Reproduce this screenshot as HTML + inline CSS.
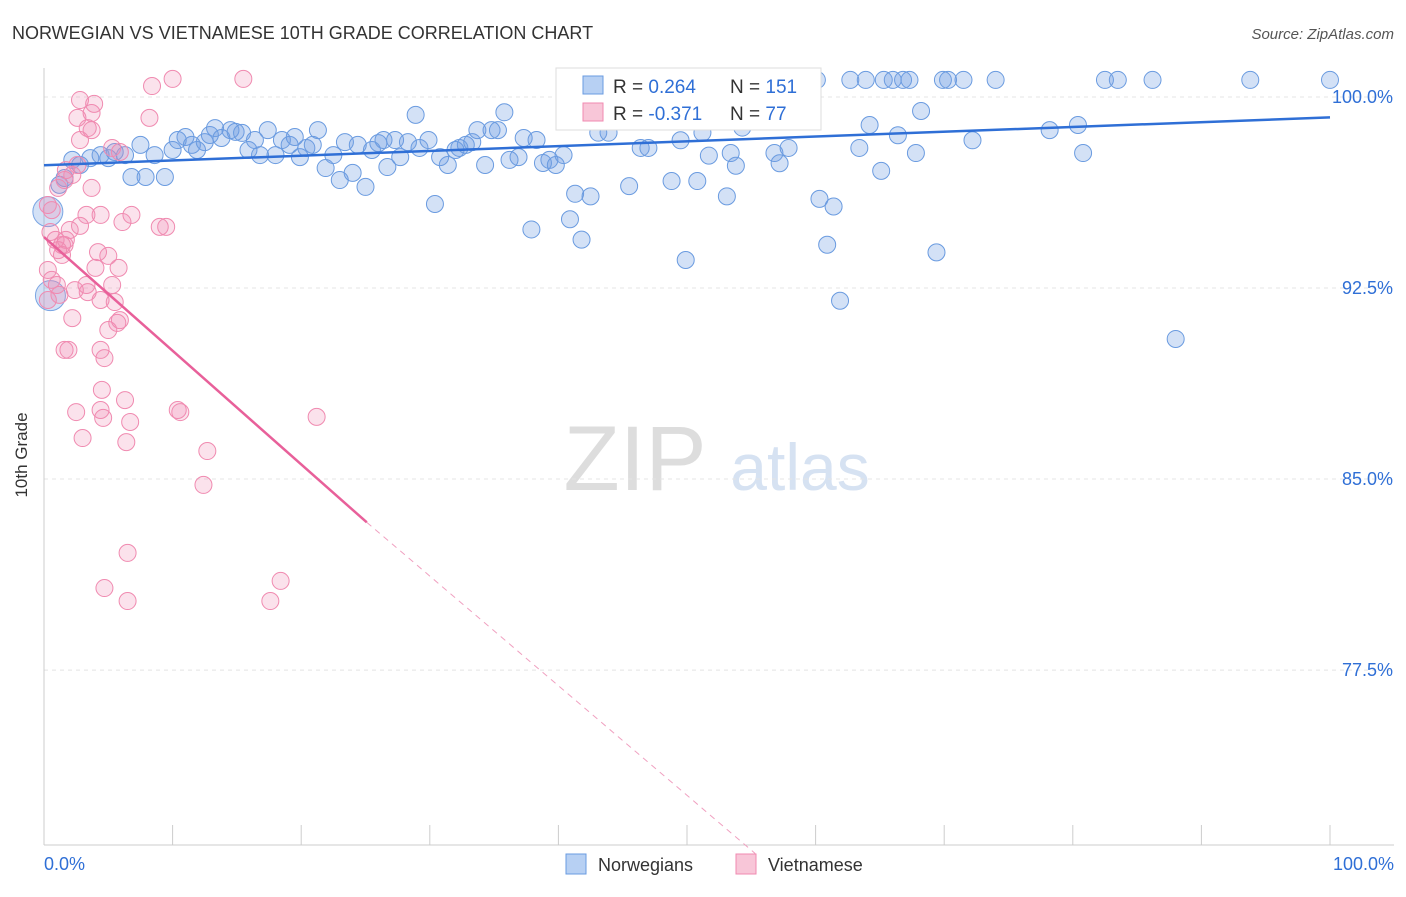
<!DOCTYPE html>
<html><head><meta charset="utf-8"><style>
body{margin:0;background:#fff;font-family:"Liberation Sans",sans-serif}
svg text{font-family:"Liberation Sans",sans-serif}
</style></head><body>
<svg id="c" width="1406" height="892">
<text x="12" y="39" font-size="18" fill="#333">NORWEGIAN VS VIETNAMESE 10TH GRADE CORRELATION CHART</text>
<text x="1394" y="39" font-size="15" fill="#555" text-anchor="end" font-style="italic">Source: ZipAtlas.com</text>
<text x="27" y="455" font-size="17" fill="#333" transform="rotate(-90 27 455)" text-anchor="middle">10th Grade</text>
<text x="635" y="490" font-size="92" fill="#ddd" font-family="Liberation Serif" text-anchor="middle">ZIP</text>
<text x="800" y="490" font-size="66" fill="#d6e2f2" text-anchor="middle">atlas</text>
<g id="grid"></g><g id="pts"></g><g id="lines"></g>
<g>
<rect x="556" y="68" width="265" height="62" fill="#fff" stroke="#ddd"/>
<rect x="583" y="76" width="20" height="18" fill="#b7d0f3" stroke="#6a9be0"/>
<text x="613" y="93" font-size="19" fill="#333">R = <tspan fill="#2f6fd6">0.264</tspan></text>
<text x="730" y="93" font-size="19" fill="#333">N = <tspan fill="#2f6fd6">151</tspan></text>
<rect x="583" y="103" width="20" height="18" fill="#f8c6d8" stroke="#f08ab0"/>
<text x="613" y="120" font-size="19" fill="#333">R = <tspan fill="#2f6fd6">-0.371</tspan></text>
<text x="730" y="120" font-size="19" fill="#333">N = <tspan fill="#2f6fd6">77</tspan></text>
</g>
<g>
<rect x="566" y="854" width="20" height="20" fill="#b7d0f3" stroke="#6a9be0"/>
<text x="598" y="871" font-size="18" fill="#333">Norwegians</text>
<rect x="736" y="854" width="20" height="20" fill="#f8c6d8" stroke="#f08ab0"/>
<text x="768" y="871" font-size="18" fill="#333">Vietnamese</text>
</g>
<text x="44" y="870" font-size="18" fill="#2f6fd6">0.0%</text>
<text x="1394" y="870" font-size="18" fill="#2f6fd6" text-anchor="end">100.0%</text>
</svg>
<script>
const yTicks=[100,92.5,85,77.5];
const yTickLabels=["100.0%","92.5%","85.0%","77.5%"];
const blueX=[60.1,62.7,63.9,65.3,66,66.8,67.3,69.9,70.3,71.5,74,82.5,83.5,86.2,93.8,100,54.7,28.9,35.8,68.2,56.6,58.8,43.1,43.9,46.4,47,49.5,51.2,51.7,53.4,53.8,54.3,56.8,57.2,57.9,63.4,64.2,66.4,67.8,72.2,78.2,80.4,80.8,65.1,45.5,48.8,50.8,53.1,41.3,42.5,40.9,41.8,37.9,30.4,60.3,61.4,60.9,49.9,69.4,61.9,88,
1.2,1.6,2.2,2.8,3.6,4.4,5.0,5.5,6.3,6.8,7.5,7.9,8.6,9.4,10.0,10.4,11.0,11.5,11.9,12.5,12.9,13.3,13.8,14.5,14.9,15.4,15.9,16.4,16.8,17.4,18.0,18.5,19.1,19.5,19.9,20.4,20.9,21.3,21.9,22.5,23.0,23.4,24.0,24.4,25.0,25.5,26.0,26.4,26.7,27.3,27.7,28.3,29.2,29.9,30.8,31.4,32.0,32.3,32.8,33.3,33.7,34.3,34.8,35.3,36.2,36.9,37.3,38.3,38.8,39.3,39.8,40.4];
const blueY=[100.67,100.67,100.67,100.67,100.67,100.67,100.67,100.67,100.67,100.67,100.67,100.67,100.67,100.67,100.67,100.67,100.67,99.3,99.4,99.45,99.4,99.9,98.6,98.6,98,98,98.3,98.6,97.7,97.8,97.3,98.8,97.8,97.4,98,98,98.9,98.5,97.8,98.3,98.7,98.9,97.8,97.1,96.5,96.7,96.7,96.1,96.2,96.1,95.2,94.4,94.8,95.8,96,95.7,94.2,93.6,93.9,92,90.5,
96.55,96.82,97.53,97.33,97.6,97.72,97.6,97.84,97.72,96.86,98.12,96.86,97.72,96.86,97.92,98.31,98.43,98.12,97.92,98.23,98.51,98.78,98.39,98.7,98.63,98.59,97.92,98.31,97.72,98.7,97.72,98.31,98.12,98.43,97.64,98,98.12,98.7,97.21,97.72,96.74,98.23,97.02,98.12,96.47,97.92,98.19,98.31,97.25,98.31,97.64,98.23,98,98.31,97.64,97.33,97.92,98,98.12,98.23,98.7,97.33,98.7,98.7,97.53,97.64,98.39,98.31,97.41,97.53,97.33,97.72];
const pinkX=[0.3,0.6,0.5,0.9,0.3,0.6,1.0,1.2,1.4,1.6,2.0,1.1,1.6,2.2,2.6,2.8,2.6,2.8,3.4,3.7,3.9,3.3,2.8,3.7,4.4,4.2,4.0,5.0,5.3,5.9,6.1,6.8,5.8,3.3,3.4,2.2,4.4,5.3,5.5,5.9,5.0,4.7,1.6,1.9,4.5,2.5,4.4,4.6,6.3,6.7,3.0,6.4,10.4,10.6,12.7,12.4,21.2,6.5,4.7,6.5,17.6,18.4,9.0,9.5,8.2,8.4,10.0,15.5,2.4,1.1,1.4,0.3,1.7,4.4,5.7,1.7,3.7];
const pinkY=[95.76,95.56,94.7,94.39,93.21,92.82,92.62,92.23,93.8,94.19,94.78,96.43,96.74,96.94,97.33,98.31,99.18,99.88,98.78,99.37,99.73,95.37,94.94,96.43,95.37,93.91,93.29,93.76,98,97.84,95.09,95.37,93.29,92.62,92.34,91.32,92.03,92.62,91.95,91.24,90.85,89.75,90.07,90.07,88.5,87.63,87.71,87.4,88.1,87.24,86.61,86.45,87.71,87.63,86.1,84.77,87.44,82.1,80.72,80.21,80.21,81.0,94.9,94.9,99.18,100.43,100.71,100.71,92.42,93.99,94.19,92.03,94.39,90.07,91.13,97.13,98.7];
const blueTrend=[[0,97.32],[100,99.2]];
const pinkTrend=[[0,94.5],[25.1,83.3]];
const pinkDash=[[25.1,83.3],[55.3,70.3]];
const X=v=>44+v*12.86, Y=v=>97+(100-v)*25.47;
const NS="http://www.w3.org/2000/svg";
function mk(t,a,p){const e=document.createElementNS(NS,t);for(const k in a)e.setAttribute(k,a[k]);p.appendChild(e);return e;}
const g=document.getElementById('grid');
yTicks.forEach((t,i)=>{
 const l=mk('line',{x1:44,x2:1394,y1:Y(t),y2:Y(t),stroke:'#e4e4e4','stroke-dasharray':'4,4'},g);
 
 
 const tx=mk('text',{x:1393,y:Y(t)+6,'font-size':18,fill:'#2f6fd6','text-anchor':'end'},g);
 tx.textContent=yTickLabels[i];
 
 
});
const ax=mk('line',{x1:44,x2:44,y1:68,y2:845,stroke:'#ccc'},g);


const bx=mk('line',{x1:44,x2:1394,y1:845,y2:845,stroke:'#ccc'},g);


for(let i=0;i<=10;i++){const t=mk('line',{x1:X(i*10),x2:X(i*10),y1:825,y2:845,stroke:'#ccc'},g);
 
 }
const p=document.getElementById('pts');
function big(x,y,fill,stroke){const c=mk('circle',{cx:X(x),cy:Y(y),r:15,fill:fill,stroke:stroke},p);
 
 }
big(0.3,95.5,'rgba(110,155,225,0.3)','#7aa5e3');big(0.5,92.2,'rgba(110,155,225,0.3)','#7aa5e3');
blueX.forEach((x,i)=>{const c=mk('circle',{cx:X(x),cy:Y(blueY[i]),r:8.5,fill:'rgba(110,155,225,0.3)',stroke:'#6a9be0','stroke-width':1},p);
 
 });
pinkX.forEach((x,i)=>{const c=mk('circle',{cx:X(x),cy:Y(pinkY[i]),r:8.5,fill:'rgba(240,140,180,0.25)',stroke:'#f08ab0','stroke-width':1},p);
 
 });
const L=document.getElementById('lines');
const b=mk('line',{x1:X(blueTrend[0][0]),y1:Y(blueTrend[0][1]),x2:X(blueTrend[1][0]),y2:Y(blueTrend[1][1]),stroke:'#2f6fd6','stroke-width':2.5},L);


const pk=mk('line',{x1:X(pinkTrend[0][0]),y1:Y(pinkTrend[0][1]),x2:X(pinkTrend[1][0]),y2:Y(pinkTrend[1][1]),stroke:'#e8609a','stroke-width':2.5},L);


const pd=mk('line',{x1:X(pinkDash[0][0]),y1:Y(pinkDash[0][1]),x2:X(pinkDash[1][0]),y2:Y(pinkDash[1][1]),stroke:'#f0a0c0','stroke-width':1,'stroke-dasharray':'6,5'},L);


</script>
</body></html>
